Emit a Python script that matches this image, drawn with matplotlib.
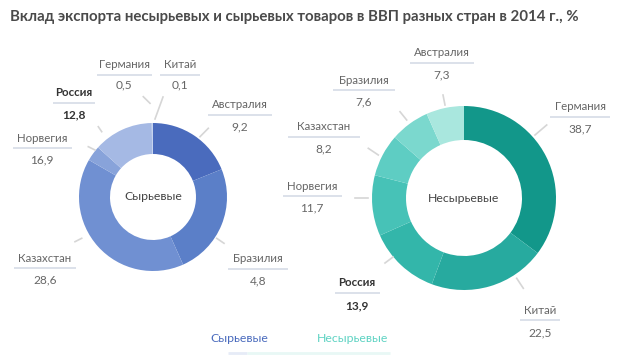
import matplotlib
matplotlib.use("Agg")
import matplotlib.pyplot as plt

plt.rcParams['font.family'] = ['Lato', 'DejaVu Sans']

W, H = 620, 355

# ---- data ----
title = "Вклад экспорта несырьевых и сырьевых товаров в ВВП разных стран в 2014 г., %"

raw_countries = ["Австралия", "Бразилия", "Казахстан", "Норвегия", "Россия", "Германия", "Китай"]
raw_values = [9.2, 4.8, 28.6, 16.9, 12.8, 0.5, 0.1]
# slice sizes as drawn in the picture (degrees of the ring)
raw_slices = [68, 88, 144, 12, 47, 0.6, 0.4]

nonraw_countries = ["Германия", "Китай", "Россия", "Норвегия", "Казахстан", "Бразилия", "Австралия"]
nonraw_values = [38.7, 22.5, 13.9, 11.7, 8.2, 7.6, 7.3]

raw_name = "Сырьевые"
nonraw_name = "Несырьевые"

# ---- styles ----
raw_colors = ["#4a6bbd", "#5b7fc8", "#7090d2", "#88a3da", "#a5b9e4", "#b4c6ea", "#b4c6ea"]
nonraw_colors = ["#12978a", "#27aa9f", "#33b6aa", "#47c2b7", "#5ecdc3", "#7bd8ce", "#a9e7de"]

def Y(y):
    return H - y

fig = plt.figure(figsize=(W / 100, H / 100), dpi=100)
ax = fig.add_axes([0, 0, 1, 1])

# donuts
lc, lR, lw = (153, Y(197)), 74, 31
rc, rR, rw = (464, Y(198)), 92, 34

ax.pie(raw_slices, colors=raw_colors, startangle=90, counterclock=False,
       center=lc, radius=lR, frame=True,
       wedgeprops=dict(width=lw, edgecolor='none', linewidth=0))
ax.pie(nonraw_values, colors=nonraw_colors, startangle=90, counterclock=False,
       center=rc, radius=rR, frame=True,
       wedgeprops=dict(width=rw, edgecolor='none', linewidth=0))

ax.set_xlim(0, W)
ax.set_ylim(0, H)
ax.set_aspect('auto')
ax.axis('off')

# title
ax.text(10, Y(17), title, fontsize=10.8, fontweight='bold', color='#4a4a4a',
        ha='left', va='center')

# center labels
ax.text(lc[0], lc[1], raw_name, fontsize=8.8, color='#444444', ha='center', va='center')
ax.text(rc[0], rc[1], nonraw_name, fontsize=8.8, color='#444444', ha='center', va='center')

def fmt(v):
    return f"{v:.1f}".replace(".", ",")

# label layout: name center x, name y, underline x0,x1,y, value y ; leader line
raw_layout = {
    "Австралия": (240, 104, 208, 272, 115, 127, (200, 136.7, 208.3, 128.3)),
    "Бразилия": (258, 259, 228, 288, 269, 281, (216.7, 238.3, 224, 243.3)),
    "Казахстан": (45, 258, 14, 76, 268, 280, (75, 241.7, 81.7, 238.3)),
    "Норвегия": (42, 139, 13, 72, 148, 160, (88.3, 146.7, 95, 150)),
    "Россия": (74, 93, 53, 95, 103, 115, (98.3, 126.7, 101.7, 131.7)),
    "Германия": (124, 65, 97, 152, 75, 85, (143.3, 96.7, 150, 103.3)),
    "Китай": (180, 65, 160, 200, 75, 85, (155, 119, 163, 97)),
}
nonraw_layout = {
    "Германия": (580, 107, 550, 610, 117, 129, (535, 135, 546.7, 125)),
    "Китай": (540, 310, 520, 560, 320, 333, (516.7, 278.3, 523.3, 288.3)),
    "Россия": (357, 283, 335, 380, 293, 306, (385, 263, 393, 257)),
    "Норвегия": (312, 186, 283, 342, 196, 208, (355, 198.3, 368.3, 198.3)),
    "Казахстан": (324, 127, 288, 360, 137, 149, (368.3, 148.3, 378.3, 155)),
    "Бразилия": (364, 80, 333, 395, 90, 102, (400, 111.7, 406.7, 120)),
    "Австралия": (442, 53, 410, 474, 63, 75, (443, 95, 445, 105)),
}

def draw_labels(countries, values, layout):
    for name, val in zip(countries, values):
        cx, ny, ux0, ux1, uy, vy, ld = layout[name]
        bold = name == "Россия"
        ax.text(cx, Y(ny), name, fontsize=8.3, color='#333333' if bold else '#666666',
                fontweight='bold' if bold else 'normal', ha='center', va='center')
        ax.plot([ux0, ux1], [Y(uy), Y(uy)], color='#d5dbe6', lw=1.2, solid_capstyle='butt')
        ax.text(cx, Y(vy), fmt(val), fontsize=8.6, color='#333333' if bold else '#666666',
                fontweight='bold' if bold else 'normal', ha='center', va='center')
        ax.plot([ld[0], ld[2]], [Y(ld[1]), Y(ld[3])], color='#d6d6d6', lw=1.2)

draw_labels(raw_countries, raw_values, raw_layout)
draw_labels(nonraw_countries, nonraw_values, nonraw_layout)

# legend
ax.text(239, Y(338), raw_name, fontsize=8.8, color='#4a6bbd', ha='center', va='center')
ax.text(353, Y(338), nonraw_name, fontsize=8.8, color='#5fd3c3', ha='center', va='center')
ax.plot([228, 247], [Y(353), Y(353)], color='#e6ebf7', lw=2, solid_capstyle='butt')
ax.plot([247, 390], [Y(353), Y(353)], color='#e8f8f5', lw=2, solid_capstyle='butt')

fig.savefig("out.png", dpi=100, facecolor='white')
